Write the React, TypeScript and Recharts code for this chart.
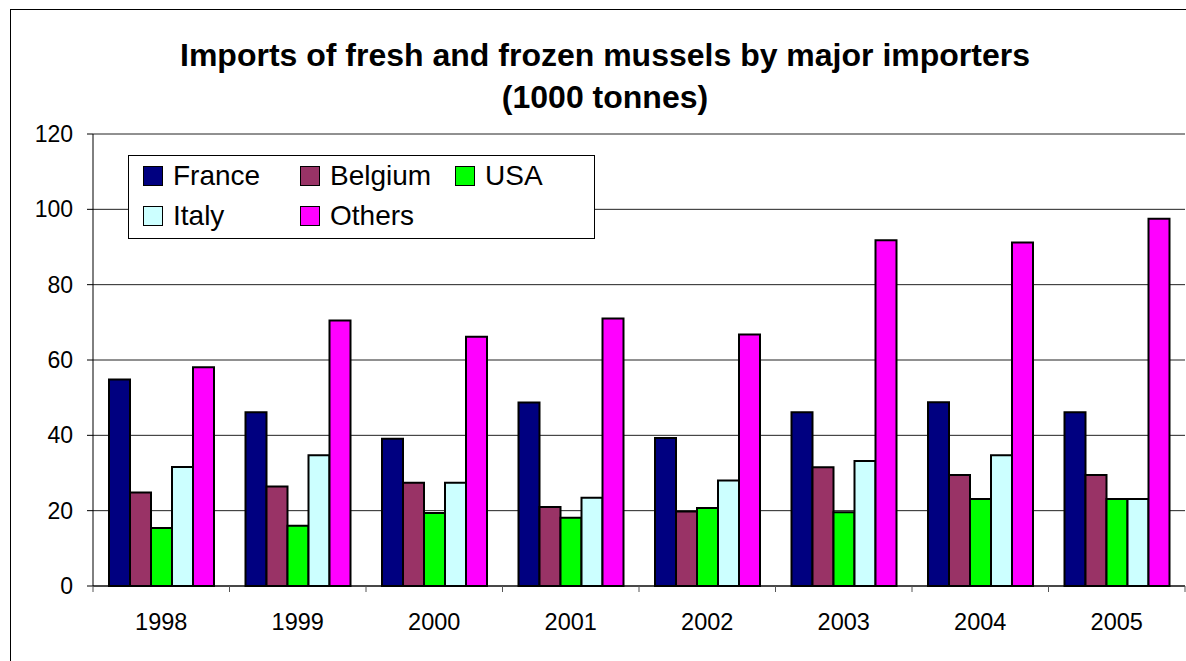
import React from "react";
import { BarChart, Bar, XAxis, YAxis, CartesianGrid, Legend } from "recharts";

const years = ["1998", "1999", "2000", "2001", "2002", "2003", "2004", "2005"];
const france = [54.8, 46.1, 39.1, 48.7, 39.3, 46.1, 48.8, 46.1];
const belgium = [24.8, 26.4, 27.4, 21.0, 19.8, 31.5, 29.5, 29.5];
const usa = [15.4, 16.0, 19.4, 18.1, 20.7, 19.6, 23.1, 23.1];
const italy = [31.6, 34.7, 27.4, 23.4, 28.0, 33.2, 34.7, 23.1];
const others = [58.1, 70.5, 66.2, 71.0, 66.8, 91.8, 91.2, 97.5];
const yTicks = [0, 20, 40, 60, 80, 100, 120];

const series = [
  { key: "France", values: france, color: "#000080" },
  { key: "Belgium", values: belgium, color: "#993366" },
  { key: "USA", values: usa, color: "#00FF00" },
  { key: "Italy", values: italy, color: "#CCFFFF" },
  { key: "Others", values: others, color: "#FF00FF" },
];

const data = years.map((year, i) => {
  const row: Record<string, string | number> = { year };
  series.forEach((s) => {
    row[s.key] = s.values[i];
  });
  return row;
});

const FONT = '"Liberation Sans", Arial, Helvetica, sans-serif';

// x tick: label in the middle of the band, tick marks on the band edges
const YearTick = (props: any) => {
  const { x, y, payload, index } = props;
  const half = payload.offset || 0;
  const last = index === years.length - 1;
  return (
    <g>
      <line x1={x - half} x2={x - half} y1={y} y2={y + 6} stroke="#555" />
      {last && <line x1={x + half} x2={x + half} y1={y} y2={y + 6} stroke="#555" />}
      <text
        x={x}
        y={y + 27}
        dy="0.71em"
        textAnchor="middle"
        fontSize={23.5}
        fontFamily={FONT}
        fill="#000"
      >
        {payload.value}
      </text>
    </g>
  );
};

const renderLegend = () => (
  <div
    style={{
      boxSizing: "border-box",
      width: 467,
      height: 84,
      border: "1px solid #000",
      background: "#fff",
      paddingLeft: 14,
      display: "grid",
      gridTemplateColumns: "157px 155px 120px",
      gridAutoRows: "40px",
      fontFamily: FONT,
      fontSize: 28,
      color: "#000",
    }}
  >
    {series.map((s) => (
      <div key={s.key} style={{ display: "flex", alignItems: "center" }}>
        <span
          style={{
            display: "inline-block",
            width: 18,
            height: 18,
            border: "1px solid #000",
            background: s.color,
            marginRight: 10,
          }}
        />
        <span>{s.key}</span>
      </div>
    ))}
  </div>
);

const App: React.FC = () => {
  return (
    <div
      style={{
        position: "fixed",
        left: 0,
        top: 0,
        width: 1186,
        height: 661,
        overflow: "hidden",
        background: "#fff",
      }}
    >
      <div
        style={{
          position: "absolute",
          left: 10,
          top: 9,
          width: 1300,
          height: 800,
          border: "1px solid #000",
        }}
      />
      <div
        style={{
          position: "absolute",
          left: 0,
          top: 34,
          width: 1210,
          textAlign: "center",
          fontFamily: FONT,
          fontWeight: "bold",
          fontSize: 32,
          lineHeight: "42px",
          color: "#000",
        }}
      >
        Imports of fresh and frozen mussels by major importers
        <br />
        (1000 tonnes)
      </div>
      <div style={{ position: "absolute", left: 0, top: 0 }}>
        <BarChart
          width={1200}
          height={661}
          data={data}
          margin={{ top: 134, right: 15, bottom: 35, left: 10 }}
          barGap={0}
          barSize={21}
        >
          <CartesianGrid vertical={false} stroke="#222" strokeWidth={1} />
          <XAxis
            dataKey="year"
            height={40}
            axisLine={{ stroke: "#000" }}
            tickLine={false}
            tickSize={0}
            tickMargin={0}
            tick={<YearTick />}
            interval={0}
          />
          <YAxis
            domain={[0, 120]}
            ticks={yTicks}
            width={83}
            tickSize={6}
            tickMargin={14}
            axisLine={{ stroke: "#000" }}
            tickLine={{ stroke: "#000" }}
            tick={{ fontSize: 23, fill: "#000", fontFamily: FONT }}
          />
          <Legend
            layout="vertical"
            align="center"
            verticalAlign="middle"
            content={renderLegend}
            wrapperStyle={{ left: 128, top: 155, width: 467, height: 84 }}
          />
          {series.map((s) => (
            <Bar
              key={s.key}
              dataKey={s.key}
              name={s.key}
              fill={s.color}
              stroke="#000"
              strokeWidth={2}
              isAnimationActive={false}
            />
          ))}
        </BarChart>
      </div>
    </div>
  );
};

export default App;
